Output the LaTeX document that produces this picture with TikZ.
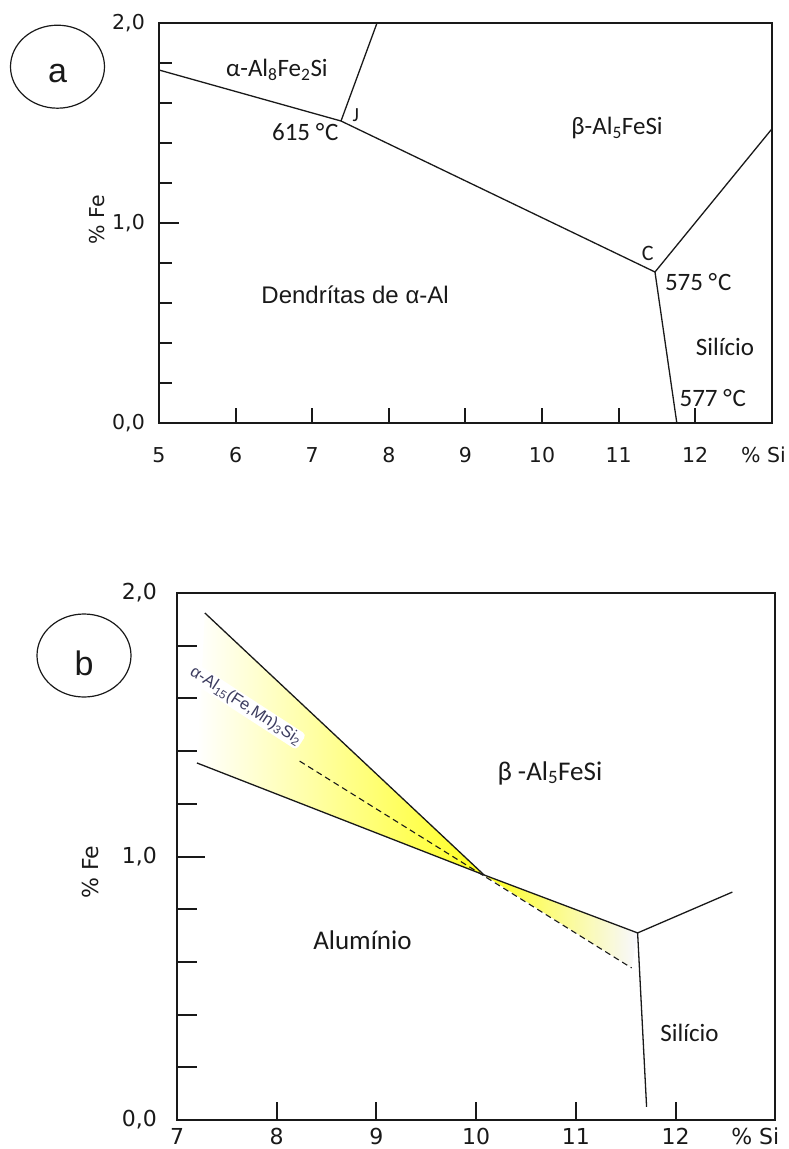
\documentclass[tikz,border=0pt]{standalone}
\usepackage{fontspec}
\setmainfont{Carlito}
\newfontfamily\arialfont{Liberation Sans}
\newfontfamily\verdfont{DejaVu Sans}
\usetikzlibrary{shapes.geometric,positioning,calc}
\definecolor{ink}{RGB}{25,25,25}
\definecolor{slate}{RGB}{60,60,95}
\definecolor{lemon}{RGB}{255,255,30}
\tikzset{
  frame/.style={draw=ink,line width=2pt},
  phase/.style={draw=ink,line width=1.3pt},
  tickmark/.style={draw=ink,line width=2pt},
  numlbl/.style={font=\verdfont\fontsize{#1}{#1}\selectfont,text=ink,inner sep=0pt},
  numlbl/.default=20.5,
  region/.style={font=\fontsize{#1}{#1}\selectfont,text=ink,inner sep=0pt},
  region/.default=25,
  badge/.style={ellipse,draw=ink,line width=1.2pt,minimum width=94pt,minimum height=83pt},
  letter/.style={font=\arialfont\fontsize{34}{34}\selectfont,text=ink,inner sep=0pt},
}
\begin{document}
\begin{tikzpicture}[x=1pt,y=1pt]
  \useasboundingbox (0,0) rectangle (789,-1149);
  % panel a
  \node[badge] (circa) at (57.5,-66.7) {};
  \node[letter] at ([yshift=-7pt]circa.center) {a};
  \begin{scope}[shift={(-224pt,-423pt)},x=76.6pt,y=200pt]
    \draw[frame] (5,0) rectangle (13,2);
    \foreach \s in {6,...,12} \draw[tickmark] (\s,0) -- ++(0,15pt);
    \foreach \s in {5,...,12} \node[numlbl] at (\s,-0.16) {\s};
    \foreach \f in {0.2,0.4,0.6,0.8,1.2,1.4,1.6,1.8} \draw[tickmark] (5,\f) -- ++(13pt,0);
    \draw[tickmark] (5,1) -- ++(20pt,0);
    \node[numlbl,anchor=east] at ([xshift=-14pt]5,0) {0,0};
    \node[numlbl,anchor=east] at ([xshift=-14pt]5,1) {1,0};
    \node[numlbl,anchor=east] at ([xshift=-14pt]5,2) {2,0};
    \node[numlbl] at (12.89,-0.16) {\% Si};
    \node[numlbl,rotate=90] at (4.19,1.015) {\% Fe};
    % invariant points
    \coordinate (Ja) at (7.376,1.51);
    \coordinate (Ca) at (11.475,0.755);
    \draw[phase] (5,1.765) -- (Ja) -- (7.846,2);
    \draw[phase] (Ja) -- (Ca) -- (13,1.47);
    \draw[phase] (Ca) -- (11.76,0);
    \node[region] at (6.54,1.765) {α-Al\textsubscript{8}Fe\textsubscript{2}Si};
    \node[region=20] at (7.57,1.54) {J};
    \node[region] at (6.91,1.455) {615 °\kern1ptC};
    \node[region] at (10.98,1.475) {β-Al\textsubscript{5}FeSi};
    \node[region=22] at (11.38,0.85) {C};
    \node[region] at (12.04,0.705) {575 °\kern1ptC};
    \node[region] at (12.39,0.38) {Silício};
    \node[region] at (12.23,0.125) {577 °\kern1ptC};
    \node[region,font=\arialfont\fontsize{24}{24}\selectfont] at (7.56,0.64) {Dendrítas de α-Al};
  \end{scope}
  % panel b
  \node[badge] (circb) at (84,-655.5) {};
  \node[letter] at ([yshift=-8pt]circb.center) {b};
  \begin{scope}[shift={(-520.9pt,-1120pt)},x=99.7pt,y=263.5pt]
    \coordinate (Ub) at (7.28,1.924);
    \coordinate (Lb) at (7.20,1.355);
    \coordinate (Pb) at (10.08,0.93);
    \coordinate (Tb) at (11.62,0.71);
    \coordinate (Db) at (8.23,1.362);
    \coordinate (Eb) at (11.56,0.577);
    \shade[left color=white,right color=lemon] (Ub) -- (Pb) -- (Lb) -- cycle;
    \shade[left color=lemon,middle color=lemon!85,right color=blue!3] (Pb) -- (Tb) -- (Eb) -- cycle;
    \draw[frame,line width=2.3pt] (7,0) rectangle (13,2);
    \foreach \s in {8,...,12} \draw[tickmark] (\s,0) -- ++(0,18pt);
    \foreach \s in {7,...,12} \node[numlbl=22] at (\s,-0.062) {\s};
    \foreach \f in {0.2,0.4,0.6,0.8,1.2,1.4,1.6,1.8} \draw[tickmark] (7,\f) -- ++(20pt,0);
    \draw[tickmark] (7,1) -- ++(28pt,0);
    \node[numlbl=22,anchor=east] at ([xshift=-20pt]7,0) {0,0};
    \node[numlbl=22,anchor=east] at ([xshift=-20pt]7,1) {1,0};
    \node[numlbl=22,anchor=east] at ([xshift=-20pt]7,2) {2,0};
    \node[numlbl=22] at (12.80,-0.062) {\% Si};
    \node[numlbl=22,rotate=90] at (6.13,0.94) {\% Fe};
    \draw[phase] (Ub) -- (Pb) -- (Tb) -- (12.57,0.865);
    \draw[phase] (Lb) -- (Pb);
    \draw[phase] (Tb) -- (11.71,0.05);
    \draw[phase,line width=1.1pt,dash pattern=on 6pt off 4pt] (Db) -- (Eb);
    \node[fill=white,rounded corners=4pt,inner sep=1.5pt,rotate=-33,text=slate,
      font=\arialfont\fontsize{16.5}{16.5}\selectfont] at (7.69,1.57)
      {α-Al\textsubscript{15}(Fe,Mn)\textsubscript{3}Si\textsubscript{2}};
    \node[region=27] at (10.74,1.317) {β -Al\textsubscript{5}FeSi};
    \node[region=27] at (8.86,0.683) {Alumínio};
    \node[region] at (12.14,0.33) {Silício};
  \end{scope}
\end{tikzpicture}
\end{document}
